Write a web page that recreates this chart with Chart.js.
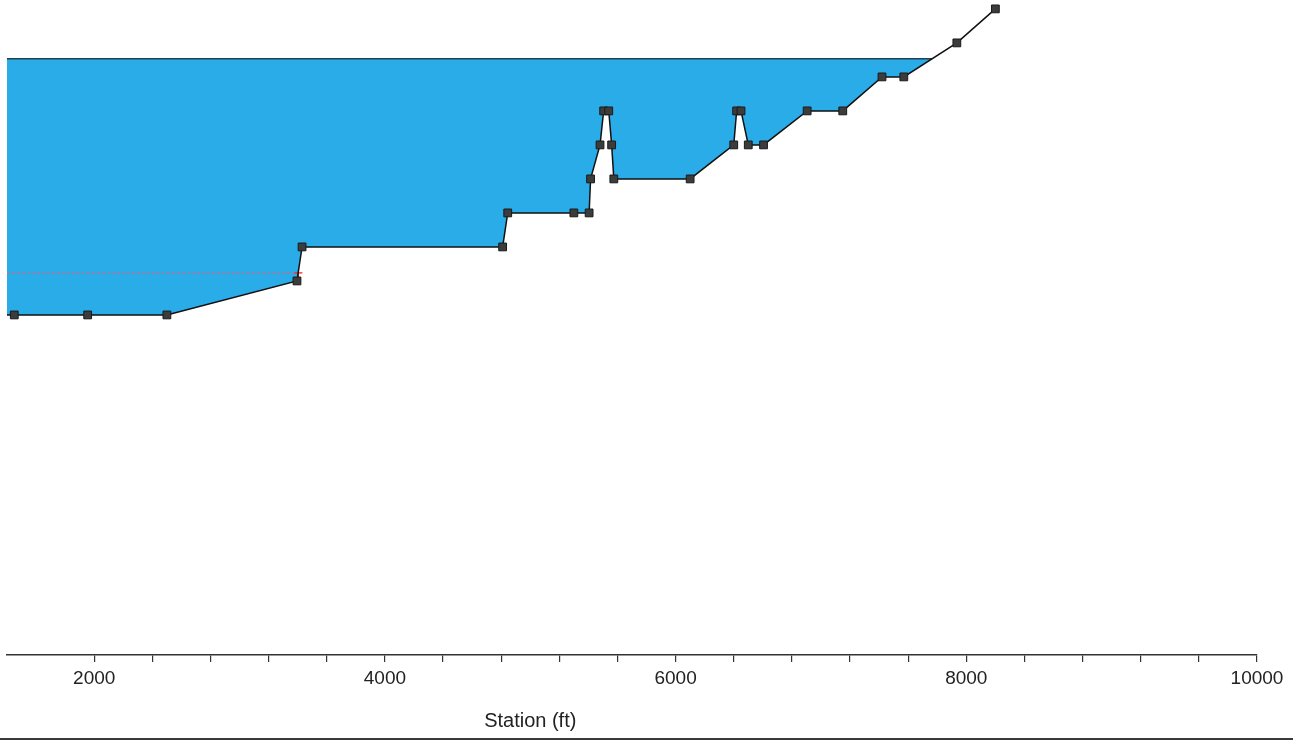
<!DOCTYPE html>
<html>
<head>
<meta charset="utf-8">
<script src="https://cdn.jsdelivr.net/npm/chart.js@4/dist/chart.umd.min.js"></script>
<style>
  html, body { margin: 0; padding: 0; background: #fff; }
  #wrap { width: 1293px; height: 738px; border-bottom: 2px solid #3a3a3a; }
</style>
</head>
<body>
<div id="wrap"><canvas id="xs" width="1293" height="738"></canvas></div>
<script>
/* ================= DATA ================= */
// ground profile (station ft, elevation ft)
const groundStation = [1400, 1450, 1955, 2500, 3395, 3430, 4810, 4845, 5300, 5405, 5415, 5480, 5505, 5540,
  5560, 5575, 6100, 6400, 6420, 6450, 6500, 6605, 6905, 7150, 7420, 7570, 7935, 8200];
const groundElev = [100, 100, 100, 100, 110, 120, 120, 130, 130, 130, 140, 150, 160, 160,
  150, 140, 140, 150, 160, 160, 150, 150, 160, 160, 170, 170, 180, 190];

// water surface
const wsStation = [1400, 7763];
const wsElev = [175.3, 175.3];

// red level line
const redStation = [1400, 3405];
const redElev = [112.35, 112.35];

// x axis
const xMin = 1400;
const xMax = 10000;
const xLabels = [2000, 4000, 6000, 8000, 10000];
const xTitle = "Station (ft)";

/* ================= HELPERS ================= */
const pts = (xs, ys) => xs.map((x, i) => ({ x, y: ys[i] }));

/* ---------- axis title plugin (title sits off-centre in the original) ---------- */
const stationTitle = {
  id: "stationTitle",
  afterDraw(chart) {
    const { ctx, scales } = chart;
    ctx.save();
    ctx.font = "20px 'Liberation Sans', Arial, sans-serif";
    ctx.fillStyle = "#222";
    ctx.textAlign = "center";
    ctx.textBaseline = "alphabetic";
    ctx.fillText(xTitle, scales.x.getPixelForValue(5000), 727);
    ctx.restore();
  }
};

/* ================= CHART ================= */
new Chart(document.getElementById("xs"), {
  type: "line",
  data: {
    datasets: [
      {
        label: "Ground",
        data: pts(groundStation, groundElev),
        borderColor: "#111",
        borderWidth: 1.5,
        pointStyle: "rect",
        pointRadius: groundStation.map((s, i) => (i === 0 ? 0 : 5.5)),
        pointBackgroundColor: "#3c3c3c",
        pointBorderColor: "#1a1a1a",
        pointBorderWidth: 1,
        fill: false,
        clip: false,
        tension: 0
      },
      {
        label: "WS",
        data: pts(wsStation, wsElev),
        borderColor: "#22404f",
        borderWidth: 1.5,
        pointRadius: 0,
        backgroundColor: "#29ace8",
        fill: { target: 0, above: "#29ace8", below: "rgba(0,0,0,0)" },
        tension: 0
      },
      {
        label: "Level",
        data: pts(redStation, redElev),
        borderColor: "#e0607a",
        borderWidth: 1,
        borderDash: [3, 2],
        pointStyle: "cross",
        pointRadius: redStation.map((s, i) => (i === redStation.length - 1 ? 4 : 0)),
        pointBorderColor: "#ff2020",
        pointBorderWidth: 1.2,
        fill: false,
        tension: 0
      }
    ]
  },
  options: {
    responsive: false,
    animation: false,
    layout: { padding: { left: 7, right: 36, top: 0, bottom: 0 } },
    plugins: {
      legend: { display: false },
      tooltip: { enabled: false },
      filler: { drawTime: "beforeDatasetsDraw" }
    },
    scales: {
      x: {
        type: "linear",
        min: xMin,
        max: xMax,
        ticks: {
          stepSize: 400,
          autoSkip: false,
          maxRotation: 0,
          padding: 5,
          color: "#222",
          font: { family: "'Liberation Sans', Arial, sans-serif", size: 19 },
          callback: (v) => (xLabels.includes(v) ? String(v) : "")
        },
        afterBuildTicks: (axis) => {
          axis.ticks = axis.ticks.filter((t) => t.value % 400 === 0);
        },
        afterFit: (axis) => { axis.height = 83; },
        grid: { drawOnChartArea: false, drawTicks: true, tickLength: 7, color: "#333", lineWidth: 1.2 },
        border: { display: true, color: "#333", width: 1.5 }
      },
      y: {
        type: "linear",
        display: false,
        min: 0,
        max: 190.7
      }
    }
  },
  plugins: [stationTitle]
});
</script>
</body>
</html>
